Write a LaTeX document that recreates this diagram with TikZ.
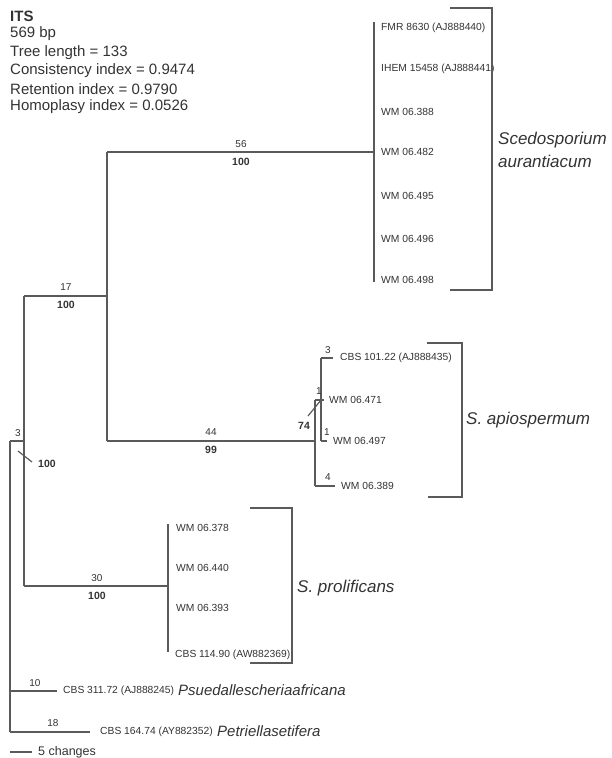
\documentclass[tikz,border=0pt]{standalone}
\usepackage{fontspec}
\setmainfont{Liberation Sans}
\definecolor{lc}{HTML}{5A5A5A}
\definecolor{tc}{HTML}{333333}
\begin{document}
\begin{tikzpicture}[x=1pt,y=-1pt,
  br/.style={draw=lc, line width=1.6pt},
  brk/.style={draw=lc, line width=1.6pt},
  tax/.style={anchor=west, inner sep=0pt, font=\fontsize{10.3}{12}\selectfont, text=tc},
  blen/.style={inner sep=0pt, font=\fontsize{10}{12}\selectfont, text=tc},
  boot/.style={inner sep=0pt, font=\fontsize{10.5}{12}\selectfont\bfseries, text=tc},
  clade/.style={anchor=west, inner sep=0pt, font=\fontsize{17}{23}\selectfont\itshape, text=tc, align=left},
  hdr/.style={anchor=west, inner sep=0pt, font=\fontsize{15}{18}\selectfont, text=tc},
  sp/.style={anchor=west, inner sep=0pt, font=\fontsize{15}{18}\selectfont\itshape, text=tc}]
\useasboundingbox (0,0) rectangle (611,758);

% header
\node[hdr, font=\fontsize{15}{18}\selectfont\bfseries] (h1) at (10,16) {ITS};
\node[hdr] (h2) at (10,34) {569 bp};
\node[hdr] (h3) at (10,52.5) {Tree length = 133};
\node[hdr] (h4) at (10,70.5) {Consistency index = 0.9474};
\node[hdr] (h5) at (10,89) {Retention index = 0.9790};
\node[hdr] (h6) at (10,107) {Homoplasy index = 0.0526};

% internal nodes
\coordinate (R) at (10,441);
\coordinate (Rb) at (10,732);
\coordinate (N3) at (24,441);
\coordinate (N17) at (107,296);
\coordinate (N56) at (374,152);
\coordinate (NA) at (315,441);
\coordinate (NB) at (321,400);
\coordinate (N30) at (168,586);

% tips: S. aurantiacum
\node[tax] (a1) at (381,28) {FMR 8630 (AJ888440)};
\node[tax] (a2) at (381,69) {IHEM 15458 (AJ888441)};
\node[tax] (a3) at (381,112) {WM 06.388};
\node[tax] (a4) at (381,152) {WM 06.482};
\node[tax] (a5) at (381,196) {WM 06.495};
\node[tax] (a6) at (381,239) {WM 06.496};
\node[tax] (a7) at (381,280) {WM 06.498};

% tips: S. apiospermum
\node[tax] (p1) at (340,358) {CBS 101.22 (AJ888435)};
\node[tax] (p2) at (329,400) {WM 06.471};
\node[tax] (p3) at (333,441) {WM 06.497};
\node[tax] (p4) at (341,486) {WM 06.389};
\coordinate (e1) at (333,358);
\coordinate (e2) at (324,400);
\coordinate (e3) at (327,441);
\coordinate (e4) at (335,486);

% tips: S. prolificans
\node[tax] (f1) at (176,528) {WM 06.378};
\node[tax] (f2) at (176,568) {WM 06.440};
\node[tax] (f3) at (176,608) {WM 06.393};
\node[tax] (f4) at (175,655) {CBS 114.90 (AW882369)};

% outgroups
\node[tax] (o1) at (63,691) {CBS 311.72 (AJ888245)};
\node[sp] (o1s) at (178,690) {Psuedallescheriaafricana};
\node[tax] (o2) at (100,732) {CBS 164.74 (AY882352)};
\node[sp] (o2s) at (217,731) {Petriellasetifera};
\coordinate (eo1) at (57,691);
\coordinate (eo2) at (90,732);

% branches
\draw[br] (R) -- (Rb);
\draw[br] (R) -- (N3);
\draw[br] (N3 |- N17) -- (N3 |- N30);
\draw[br] (N3 |- N17) -- (N17);
\draw[br] (N17 |- N56) -- (N17 |- NA);
\draw[br] (N17 |- N56) -- (N56);
\draw[br] (N17 |- NA) -- (NA);
\draw[br] (374,22) -- (374,282);
\draw[br] (NA |- NB) -- (NA |- e4);
\draw[br] (NA |- NB) -- (NB);
\draw[br] (NA |- e4) -- (e4);
\draw[br] (NB |- e1) -- (NB |- e3);
\draw[br] (NB |- e1) -- (e1);
\draw[br] (NB) -- (e2);
\draw[br] (NB |- e3) -- (e3);
\draw[br] (N3 |- N30) -- (N30);
\draw[br] (168,524) -- (168,652);
\draw[br] (R |- eo1) -- (eo1);
\draw[br] (Rb) -- (eo2);

% branch lengths and bootstrap
\node[blen] (l3) at (18,433) {3};
\draw[br, line width=1.2pt] (18,451) -- (32,462);
\node[boot] (b3) at (47,464) {100};
\node[blen] (l17) at (66,287) {17};
\node[boot] (b17) at (66,305) {100};
\node[blen] (l56) at (241,144) {56};
\node[boot] (b56) at (241,162) {100};
\node[blen] (l44) at (211,432) {44};
\node[boot] (b44) at (211,450) {99};
\node[blen] (l30) at (97,578) {30};
\node[boot] (b30) at (97,596) {100};
\node[blen] (lc) at (328,350) {3};
\node[blen] (l471) at (319,391) {1};
\node[blen] (l497) at (327,432) {1};
\node[blen] (l389) at (328,477) {4};
\draw[br, line width=1.2pt] (308,416) -- (NB);
\node[boot] (b74) at (304,426) {74};
\node[blen] (l10) at (35,683) {10};
\node[blen] (l18) at (53,723) {18};

% brackets
\draw[brk] (450,8) -- (492,8) -- (492,290) -- (450,290);
\draw[brk] (427,343) -- (462,343) -- (462,497) -- (428,497);
\draw[brk] (250,508) -- (292,508) -- (292,663) -- (250,663);
\node[clade] (ca) at (498,150) {Scedosporium\\aurantiacum};
\node[clade] (cb) at (466,420) {S. apiospermum};
\node[clade] (cc) at (297,588) {S. prolificans};

% scale bar
\coordinate (s0) at (10,752);
\coordinate (s1) at (32,752);
\draw[br, line width=1.2pt] (s0) -- (s1);
\node[anchor=west, inner sep=0pt, font=\fontsize{12.5}{14}\selectfont, text=tc] (sc) at (38,752) {5 changes};
\end{tikzpicture}
\end{document}
